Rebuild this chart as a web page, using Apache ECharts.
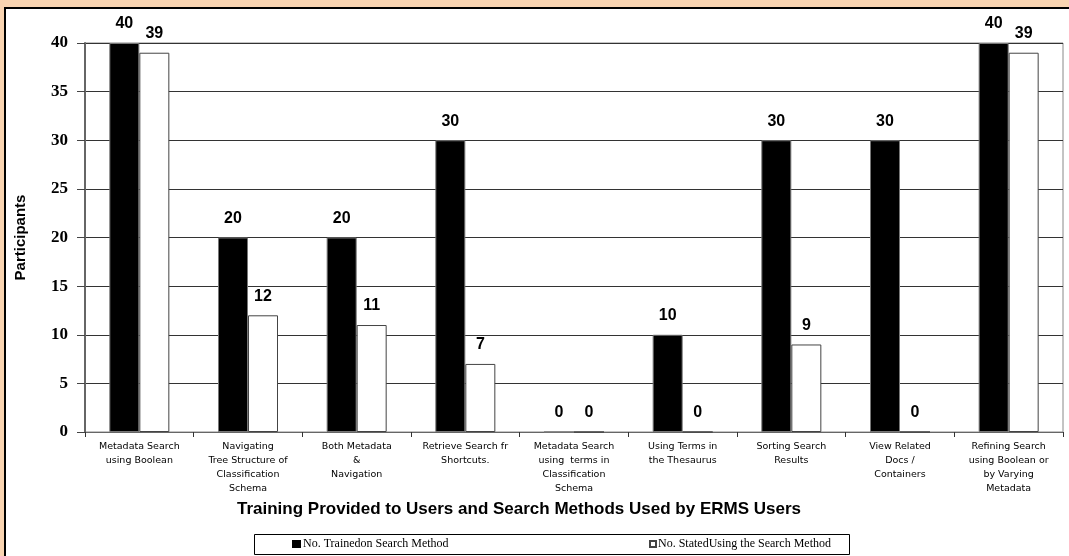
<!DOCTYPE html>
<html>
<head>
<meta charset="utf-8">
<script src="https://cdn.jsdelivr.net/npm/echarts@6/dist/echarts.min.js"></script>
<style>
  html, body { margin: 0; padding: 0; background: #f9d4b1; }
  #frame { position: absolute; left: 4px; top: 7px; width: 1100px; height: 600px;
           background: #fff; border: 2px solid #000; }
  #chart { position: absolute; left: 0; top: 0; width: 1069px; height: 556px; }
</style>
</head>
<body>
<div id="frame"></div>
<div id="chart"></div>
<script>
// search methods (x axis)
const categories = [
    'Metadata Search\nusing Boolean',
    'Navigating\nTree Structure of\nClassification\nSchema',
    'Both Metadata\n&\nNavigation',
    'Retrieve Search fr\nShortcuts.',
    'Metadata Search\nusing  terms in\nClassification\nSchema',
    'Using Terms in\nthe Thesaurus',
    'Sorting Search\nResults',
    'View Related\nDocs /\nContainers',
    'Refining Search\nusing Boolean or\nby Varying\nMetadata'
];
const trained = [40, 20, 20, 30, 0, 10, 30, 30, 40];
const used = [39, 12, 11, 7, 0, 0, 9, 0, 39];
const seriesNames = ['No. Trainedon Search Method', 'No. StatedUsing the Search Method'];

const chart = echarts.init(document.getElementById('chart'));

const barLabel = {
    show: true,
    position: 'top',
    distance: 11,
    color: '#000',
    fontFamily: 'Liberation Sans',
    fontWeight: 'bold',
    fontSize: 16
};

chart.setOption({
    animation: false,
    backgroundColor: 'transparent',
    grid: {
        left: 85, right: 6, top: 43, bottom: 124,
        show: true, borderColor: '#888', borderWidth: 1
    },
    graphic: [
        {
            type: 'text', left: 237, top: 501,
            style: {
                text: 'Training Provided to Users and Search Methods Used by ERMS Users',
                fontFamily: 'Liberation Sans', fontWeight: 'bold', fontSize: 17, fill: '#000'
            }
        },
        {
            // legend box
            type: 'rect', shape: { x: 254.5, y: 534.5, width: 595, height: 20 },
            style: { fill: '#fff', stroke: '#000', lineWidth: 1 }, z: -1
        }
    ],
    legend: [
        {
            data: [seriesNames[0]], left: 292, top: 538, padding: 0,
            icon: 'rect', itemWidth: 9, itemHeight: 8, itemGap: 0,
            itemStyle: { borderWidth: 0 },
            textStyle: { fontFamily: 'Liberation Serif', fontSize: 12, color: '#000', padding: [0, 0, 0, -3] }
        },
        {
            data: [seriesNames[1]], left: 649, top: 538, padding: 0,
            icon: 'rect', itemWidth: 6, itemHeight: 6, itemGap: 0,
            textStyle: { fontFamily: 'Liberation Serif', fontSize: 12, color: '#000', padding: [0, 0, 0, -3] }
        }
    ],
    xAxis: {
        type: 'category',
        data: categories,
        axisLine: { lineStyle: { color: '#666', width: 1 } },
        axisTick: { show: true, length: 5, lineStyle: { color: '#333' } },
        axisLabel: {
            interval: 0, margin: 8, color: '#000',
            fontFamily: 'DejaVu Sans', fontSize: 9.5, lineHeight: 14
        }
    },
    yAxis: {
        type: 'value',
        min: 0, max: 40, interval: 5,
        name: 'Participants',
        nameLocation: 'middle',
        nameGap: 57,
        nameTextStyle: { fontFamily: 'Liberation Sans', fontWeight: 'bold', fontSize: 15, color: '#000' },
        axisLine: { show: true, lineStyle: { color: '#666', width: 2 } },
        axisTick: { show: true, length: 8, lineStyle: { color: '#444' } },
        axisLabel: {
            margin: 17, color: '#000',
            fontFamily: 'Liberation Serif', fontWeight: 'bold', fontSize: 17
        },
        splitLine: { lineStyle: { color: '#333', width: 1 } }
    },
    series: [
        {
            name: seriesNames[0],
            type: 'bar',
            data: trained,
            barWidth: 30,
            barGap: '0%',
            itemStyle: { color: '#000', borderColor: '#777', borderWidth: 1 },
            label: barLabel
        },
        {
            name: seriesNames[1],
            type: 'bar',
            data: used,
            barWidth: 30,
            itemStyle: { color: '#fff', borderColor: '#444', borderWidth: 1 },
            label: barLabel
        }
    ]
});
</script>
</body>
</html>
